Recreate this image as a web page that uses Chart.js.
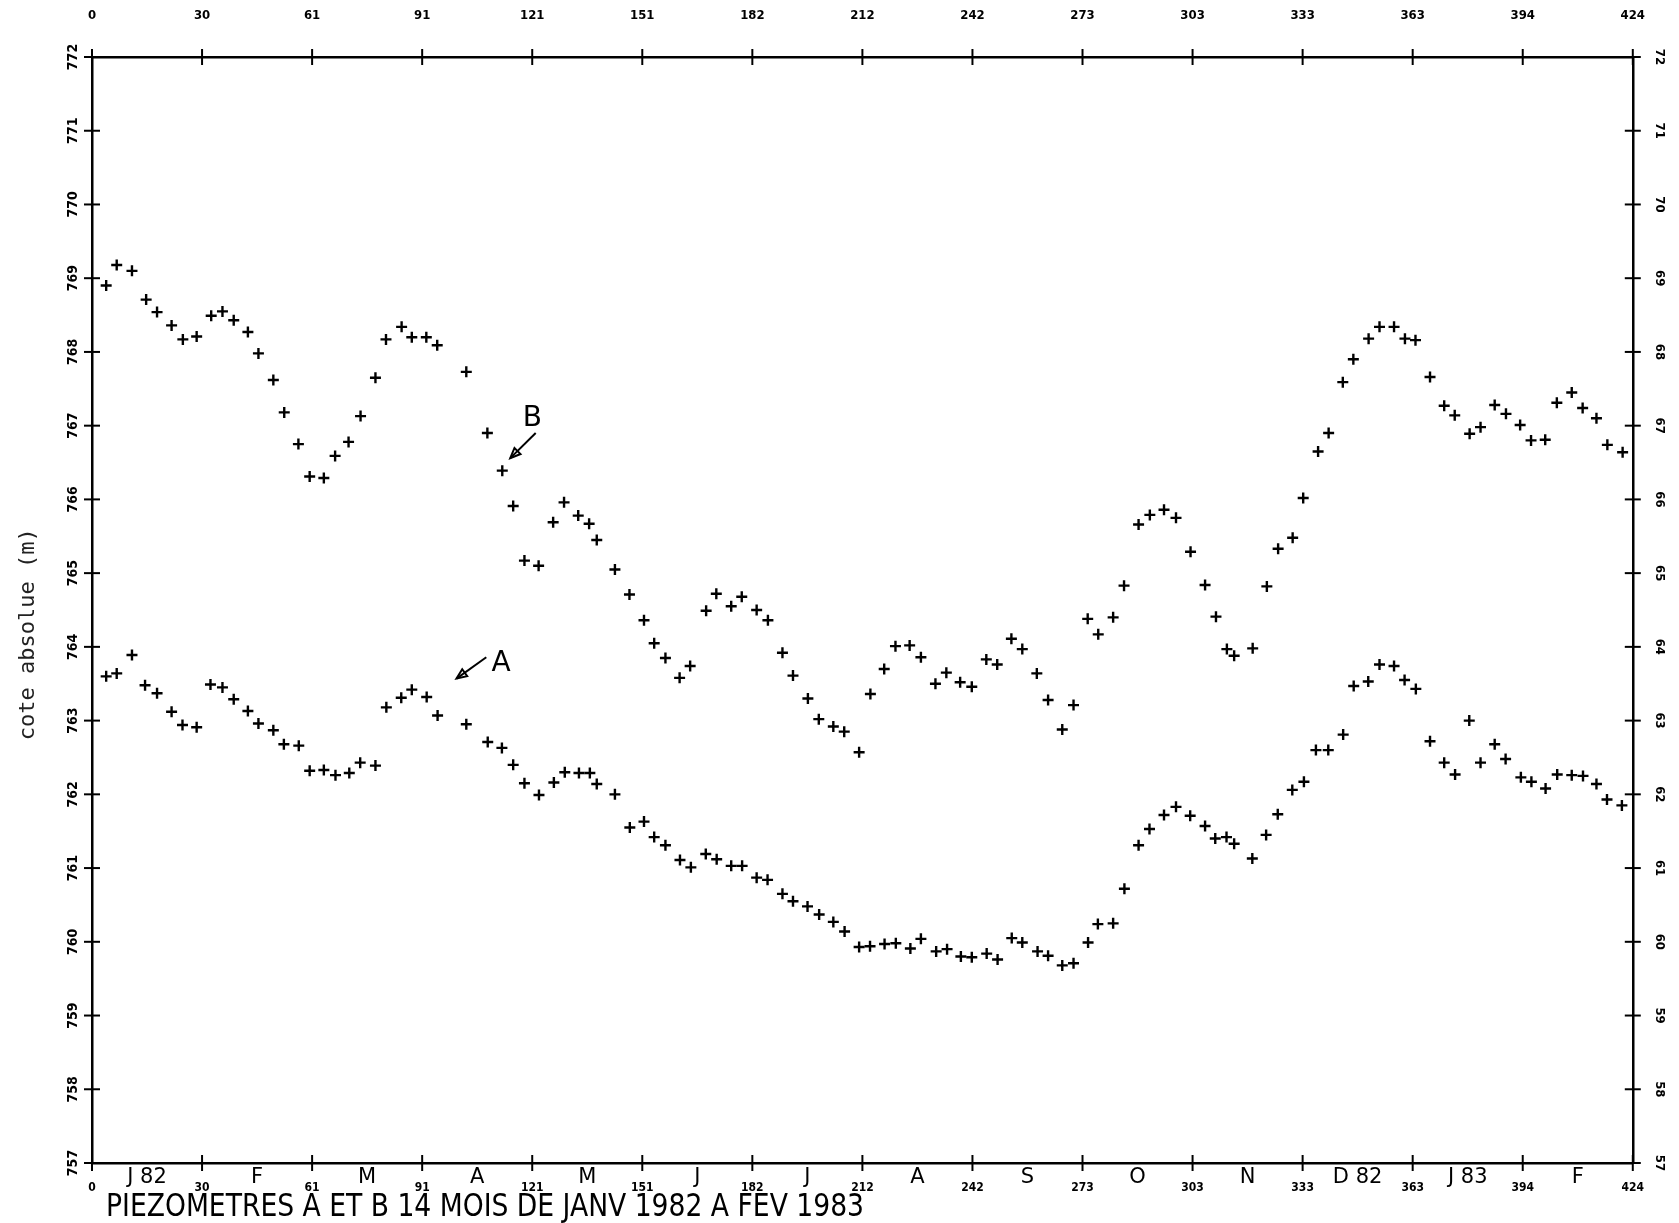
<!DOCTYPE html>
<html><head><meta charset="utf-8">
<script src="https://cdn.jsdelivr.net/npm/chart.js@4.4.0/dist/chart.umd.min.js"></script>
<style>html,body{margin:0;padding:0;background:#fff;}canvas{display:block;}</style>
</head><body>
<canvas id="c" width="1679" height="1223"></canvas>
<script>
// ---- data ----
const dayTicks = [0,30,61,91,121,151,182,212,242,273,303,333,363,394,424];   // tick labels (rounded days)
const monthLabels = ['J 82','F','M','A','M','J','J','A','S','O','N','D 82','J 83','F'];
const levelTicks = [757,758,759,760,761,762,763,764,765,766,767,768,769,770,771,772];
const leftTickLabels = ['757','758','759','760','761','762','763','764','765','766','767','768','769','770','771','772'];
const rightTickLabels = ['57','58','59','60','61','62','63','64','65','66','67','68','69','70','71','72'];
const titleText = 'PIEZOMETRES A ET B 14 MOIS DE JANV 1982 A FEV 1983';
const yTitleText = 'cote absolue (m)';

const daysB = [3.9,6.8,11.0,14.9,17.9,21.9,25.0,28.8,32.8,35.9,39.0,42.9,45.8,49.9,52.9,56.8,59.9,63.8,66.9,70.6,73.9,78.0,80.9,85.2,88.0,92.0,95.0,103.0,108.8,112.9,115.9,119.0,122.9,126.9,129.9,133.8,136.8,138.9,143.9,147.9,151.9,154.7,157.8,161.7,164.6,169.0,171.8,175.9,178.8,182.9,186.0,190.0,192.9,197.0,200.0,204.0,207.0,211.1,214.2,218.0,221.1,225.0,228.1,232.1,235.1,238.9,242.1,246.1,249.1,253.0,256.0,260.0,263.1,267.0,270.1,274.0,276.9,281.0,284.0,288.0,291.1,295.0,298.3,302.3,306.3,309.3,312.3,314.3,319.4,323.3,326.4,330.4,333.3,337.4,340.3,344.2,347.1,351.3,354.3,358.3,361.3,364.2,368.2,372.1,375.0,379.1,382.1,386.0,389.1,393.0,396.0,399.9,403.1,407.2,410.2,414.0,417.0,421.2];
const levelsB = [768.90,769.18,769.10,768.71,768.54,768.36,768.17,768.21,768.49,768.55,768.43,768.27,767.98,767.62,767.18,766.75,766.31,766.29,766.59,766.78,767.13,767.65,768.17,768.34,768.20,768.20,768.09,767.73,766.90,766.39,765.91,765.17,765.10,765.69,765.96,765.78,765.67,765.45,765.05,764.71,764.36,764.05,763.85,763.58,763.74,764.49,764.72,764.55,764.68,764.50,764.36,763.92,763.61,763.30,763.02,762.92,762.85,762.57,763.36,763.70,764.01,764.02,763.86,763.50,763.65,763.52,763.46,763.83,763.76,764.11,763.97,763.64,763.28,762.88,763.21,764.38,764.17,764.40,764.83,765.66,765.79,765.86,765.75,765.29,764.84,764.41,763.97,763.88,763.98,764.82,765.33,765.48,766.02,766.65,766.90,767.59,767.90,768.18,768.34,768.34,768.18,768.16,767.66,767.27,767.14,766.89,766.98,767.28,767.16,767.01,766.80,766.81,767.31,767.45,767.24,767.10,766.74,766.64];

const daysA = [3.9,6.8,11.0,14.6,17.9,21.9,24.9,28.8,32.6,35.9,39.0,42.9,45.8,49.9,52.8,56.9,59.9,63.8,67.0,70.8,73.8,78.0,81.0,85.1,88.0,92.1,95.1,103.0,108.9,112.8,115.9,119.0,123.0,127.1,130.1,134.0,137.0,138.9,143.9,148.0,151.9,154.7,157.8,161.8,164.8,168.9,171.9,175.9,178.9,182.9,185.9,190.0,192.9,196.9,200.1,204.0,207.1,211.1,214.1,218.1,221.2,225.2,228.1,232.3,235.3,239.1,242.1,246.2,249.2,253.1,256.0,260.2,263.1,267.0,270.1,274.1,276.8,281.0,284.1,288.0,291.0,295.0,298.3,302.2,306.3,309.1,312.2,314.3,319.3,323.1,326.3,330.3,333.5,336.8,340.2,344.3,347.2,351.2,354.3,358.3,361.2,364.3,368.2,372.1,375.1,379.0,382.1,386.0,389.0,393.2,396.1,400.0,403.2,407.2,410.3,414.0,416.9,421.0];
const levelsA = [763.60,763.64,763.89,763.48,763.37,763.12,762.94,762.91,763.49,763.45,763.29,763.13,762.96,762.87,762.68,762.66,762.32,762.33,762.26,762.29,762.43,762.39,763.18,763.31,763.42,763.32,763.07,762.95,762.71,762.63,762.40,762.15,761.99,762.16,762.30,762.29,762.29,762.14,762.00,761.55,761.63,761.42,761.31,761.11,761.01,761.19,761.12,761.03,761.03,760.87,760.84,760.65,760.55,760.48,760.37,760.27,760.14,759.93,759.94,759.97,759.98,759.91,760.04,759.87,759.90,759.80,759.79,759.84,759.76,760.05,759.99,759.87,759.81,759.68,759.71,759.99,760.24,760.25,760.72,761.31,761.53,761.72,761.83,761.71,761.57,761.40,761.42,761.33,761.13,761.45,761.73,762.06,762.17,762.60,762.60,762.81,763.47,763.53,763.76,763.74,763.55,763.43,762.72,762.43,762.27,763.00,762.43,762.68,762.48,762.23,762.17,762.08,762.27,762.26,762.25,762.14,761.93,761.85];

// annotation anchors in data units (label, arrow tail, arrow tip)
const annoText = ['B','A'];
const annoLabelDay = [121.2, 112.6];
const annoLabelLevel = [767.10, 763.77];
const annoTailDay = [122.1, 108.5];
const annoTailLevel = [766.90, 763.86];
const annoTipDay = [115.1, 100.3];
const annoTipLevel = [766.56, 763.57];

// ---- build ----
const xMax = 424;
const tickPos = dayTicks.map((_, i) => i * xMax / (dayTicks.length - 1)); // evenly spaced ticks
const bottomTicks = [];
tickPos.forEach((d,i) => {
  bottomTicks.push(d);
  if (i < tickPos.length-1) bottomTicks.push((d + tickPos[i+1]) / 2);
});

const COND = '"DejaVu Sans Condensed","Liberation Sans Narrow","DejaVu Sans",sans-serif';

const decor = {
  id: 'decor',
  afterDraw(chart) {
    const ctx = chart.ctx, a = chart.chartArea;
    const sx = chart.scales.x, sxt = chart.scales.xTop, sy = chart.scales.y, syr = chart.scales.yRight;
    const line = (x1,y1,x2,y2) => { ctx.beginPath(); ctx.moveTo(x1,y1); ctx.lineTo(x2,y2); ctx.stroke(); };
    ctx.save();
    ctx.strokeStyle = '#000'; ctx.lineWidth = 2;
    sxt.ticks.forEach(t => { const px = sxt.getPixelForValue(t.value); line(px, a.top-8, px, a.top+8); });
    tickPos.forEach(d => { const px = sx.getPixelForValue(d); line(px, a.bottom-8, px, a.bottom+8); });
    sy.ticks.forEach(t => { const py = sy.getPixelForValue(t.value); line(a.left-8, py, a.left+8, py); });
    syr.ticks.forEach(t => { const py = syr.getPixelForValue(t.value); line(a.right-8, py, a.right+8, py); });

    ctx.fillStyle = '#000';
    ctx.textAlign = 'center'; ctx.textBaseline = 'middle';
    ctx.font = 'bold 14px ' + COND;
    sy.ticks.forEach((t,i) => {
      const py = sy.getPixelForValue(t.value);
      ctx.save(); ctx.translate(a.left - 19, py); ctx.rotate(-Math.PI/2);
      ctx.fillText(leftTickLabels[i], 0, 0); ctx.restore();
    });
    ctx.font = 'bold 13px ' + COND;
    syr.ticks.forEach((t,i) => {
      const py = syr.getPixelForValue(t.value);
      ctx.save(); ctx.translate(a.right + 27, py); ctx.rotate(Math.PI/2);
      ctx.fillText(rightTickLabels[i], 0, 0); ctx.restore();
    });

    // y title
    ctx.fillStyle = '#222';
    ctx.font = '22px "DejaVu Sans Mono",monospace';
    ctx.save(); ctx.translate(a.left - 64, a.top + (a.bottom - a.top) * 0.522); ctx.rotate(-Math.PI/2);
    ctx.fillText(yTitleText, 0, 0); ctx.restore();

    // bottom title (condensed to fit)
    ctx.fillStyle = '#000';
    ctx.font = '32px ' + COND;
    ctx.textAlign = 'left';
    const w = ctx.measureText(titleText).width;
    ctx.save(); ctx.translate(a.left + 14, a.bottom + 45); ctx.scale(758 / w, 1);
    ctx.fillText(titleText, 0, 0); ctx.restore();

    // annotations
    ctx.textAlign = 'center';
    ctx.font = '28px "DejaVu Sans",sans-serif';
    ctx.lineWidth = 2;
    annoText.forEach((txt, i) => {
      const lx = sx.getPixelForValue(annoLabelDay[i]), ly = sy.getPixelForValue(annoLabelLevel[i]);
      ctx.fillText(txt, lx, ly);
      const x1 = sx.getPixelForValue(annoTailDay[i]), y1 = sy.getPixelForValue(annoTailLevel[i]);
      const x2 = sx.getPixelForValue(annoTipDay[i]), y2 = sy.getPixelForValue(annoTipLevel[i]);
      line(x1, y1, x2, y2);
      const ang = Math.atan2(y2 - y1, x2 - x1), h = 11;
      ctx.beginPath();
      ctx.moveTo(x2, y2);
      ctx.lineTo(x2 - h*Math.cos(ang - 0.4), y2 - h*Math.sin(ang - 0.4));
      ctx.lineTo(x2 - h*Math.cos(ang + 0.4), y2 - h*Math.sin(ang + 0.4));
      ctx.closePath(); ctx.stroke();
    });
    ctx.restore();
  }
};

const pointStyleOpts = { pointStyle: 'cross', pointRadius: 5.5, pointBorderWidth: 2.4, borderColor: '#000', backgroundColor: '#000', showLine: false };

new Chart(document.getElementById('c'), {
  type: 'scatter',
  data: {
    datasets: [
      Object.assign({ label: 'B', data: daysB.map((d,i) => ({x: d, y: levelsB[i]})), xAxisID: 'x', yAxisID: 'y' }, pointStyleOpts),
      Object.assign({ label: 'A', data: daysA.map((d,i) => ({x: d, y: levelsA[i]})), xAxisID: 'x', yAxisID: 'y' }, pointStyleOpts)
    ]
  },
  options: {
    responsive: false,
    animation: false,
    events: [],
    layout: { padding: 0 },
    plugins: { legend: { display: false }, tooltip: { enabled: false }, title: { display: false } },
    scales: {
      x: {
        type: 'linear', position: 'bottom', min: 0, max: xMax,
        afterBuildTicks: s => { s.ticks = bottomTicks.map(v => ({ value: v })); },
        afterFit: s => { s.height = 60; },
        grid: { display: true, drawOnChartArea: false, drawTicks: false },
        border: { display: true, color: '#000', width: 2.5 },
        ticks: {
          autoSkip: false, maxRotation: 0, minRotation: 0, padding: 2, color: '#000',
          callback: (v, i) => i % 2 === 0 ? ['', String(dayTicks[i/2])] : monthLabels[(i-1)/2],
          font: c => c.index % 2 === 0
            ? { family: COND, size: 12, weight: 'bold', lineHeight: 1.25 }
            : { family: '"DejaVu Sans",sans-serif', size: 21, weight: 'normal', lineHeight: 1.2 }
        }
      },
      xTop: {
        type: 'linear', position: 'top', min: 0, max: xMax,
        afterBuildTicks: s => { s.ticks = tickPos.map(v => ({ value: v })); },
        afterFit: s => { s.height = 57; },
        grid: { display: true, drawOnChartArea: false, drawTicks: false },
        border: { display: true, color: '#000', width: 2.5 },
        ticks: {
          autoSkip: false, maxRotation: 0, minRotation: 0, padding: 34, color: '#000',
          callback: (v, i) => String(dayTicks[i]),
          font: { family: COND, size: 13, weight: 'bold', lineHeight: 1.2 }
        }
      },
      y: {
        type: 'linear', position: 'left', min: 757, max: 772,
        afterBuildTicks: s => { s.ticks = levelTicks.map(v => ({ value: v })); },
        afterFit: s => { s.width = 92; },
        grid: { display: true, drawOnChartArea: false, drawTicks: false },
        border: { display: true, color: '#000', width: 2.5 },
        ticks: { display: false }
      },
      yRight: {
        type: 'linear', position: 'right', min: 757, max: 772,
        afterBuildTicks: s => { s.ticks = levelTicks.map(v => ({ value: v })); },
        afterFit: s => { s.width = 41; },
        grid: { display: true, drawOnChartArea: false, drawTicks: false },
        border: { display: true, color: '#000', width: 2.5 },
        ticks: { display: false }
      }
    }
  },
  plugins: [decor]
});
</script>
</body></html>
